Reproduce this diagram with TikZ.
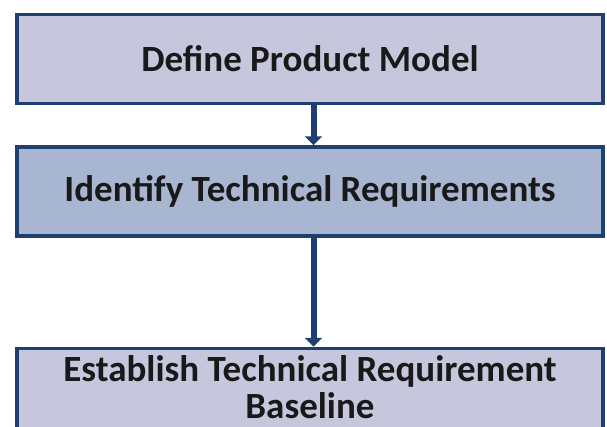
\documentclass[tikz,border=0pt]{standalone}
\usepackage{fontspec}
\setmainfont{Carlito}
\usetikzlibrary{arrows.meta}
\definecolor{boxline}{HTML}{1F3F70}
\definecolor{palebox}{HTML}{C6C7DC}
\definecolor{bluebox}{HTML}{A8B6D1}

\begin{document}
\begin{tikzpicture}[x=1pt, y=-1pt]
\tikzset{stepbox/.style={draw=boxline, line width=3.5pt, minimum width=586pt, minimum height=89pt, inner sep=0pt, align=center, text=black!90, font=\fontsize{37}{37}\selectfont\bfseries}}
\tikzset{flow/.style={draw=boxline, line width=6pt, -{Triangle[length=9pt, width=17pt]}}}
    \useasboundingbox (0,0) rectangle (607,426);

    \node[stepbox, fill=palebox] (define) at (310,59) {Define Product Model};
    \node[stepbox, fill=bluebox] (identify) at (310,191.5) {Identify Technical Requirements};
    % last box runs out of the picture at the bottom
    \node[stepbox, fill=palebox, anchor=north, inner ysep=7pt, text depth=40pt] (baseline) at (310,346.75) {Establish Technical Requirement\\Baseline};
% % % % % % % % % % % % % % % % % % %
    \draw[flow] ([xshift=3.5pt]define.south) -- ([xshift=3.5pt]identify.north);
    \draw[flow] ([xshift=3.5pt]identify.south) -- ([xshift=3.5pt]baseline.north);
\end{tikzpicture}
\end{document}
